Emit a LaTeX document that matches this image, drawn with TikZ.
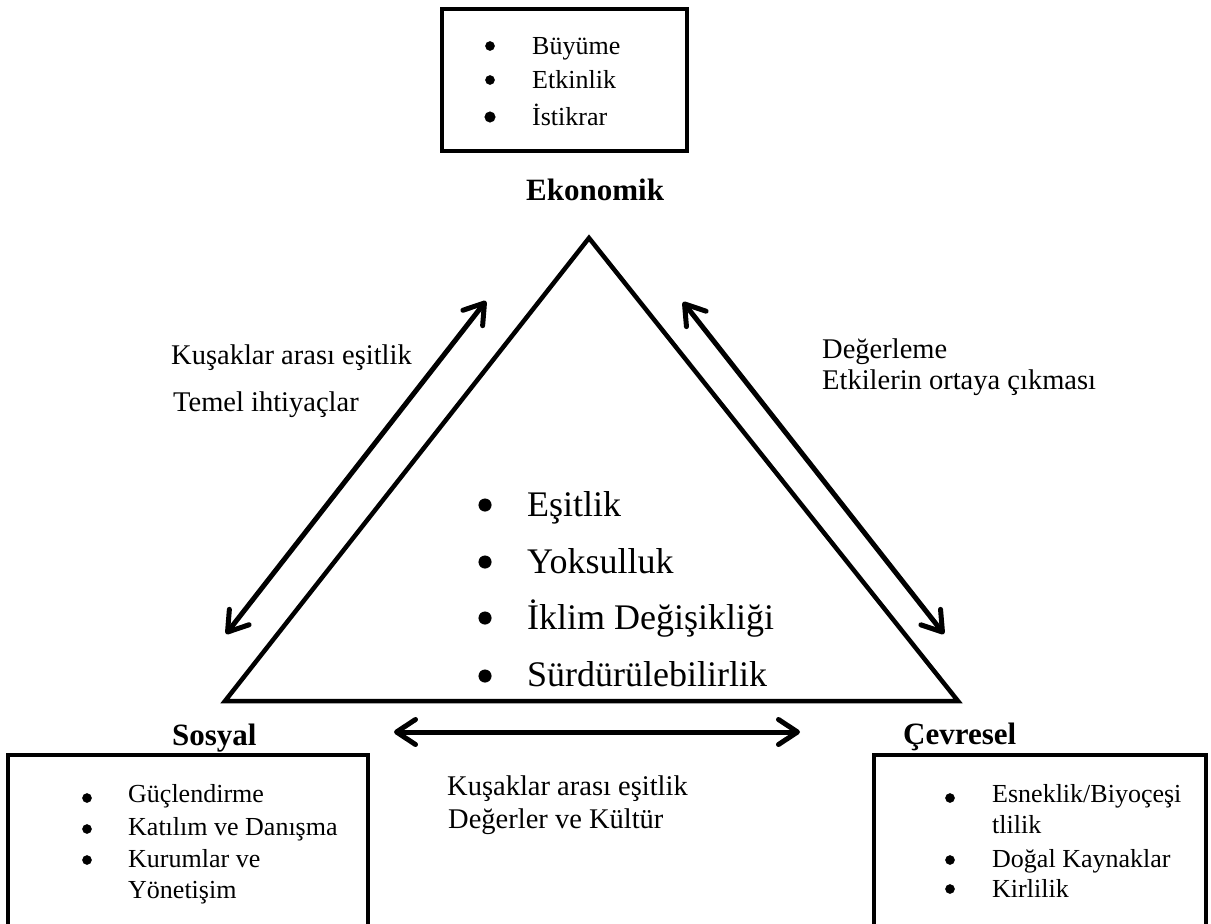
\documentclass[tikz,border=0pt]{standalone}
\usepackage{fontspec}
\setmainfont{Liberation Serif}
\usetikzlibrary{arrows.meta}

\tikzset{
  frame/.style={line width=4.5pt, line join=miter},
  boxtxt/.style={anchor=base west, inner sep=0pt, font=\fontsize{26}{30}\selectfont},
  midtxt/.style={anchor=base west, inner sep=0pt, font=\fontsize{36}{42}\selectfont},
  labtxt/.style={anchor=base west, inner sep=0pt, font=\fontsize{28.5}{33}\selectfont},
  headtxt/.style={anchor=base west, inner sep=0pt, font=\bfseries\fontsize{31}{36}\selectfont},
  dot/.style={circle, fill=black, draw=black, line width=0.5pt, inner sep=0pt, minimum size=9pt},
  bigdot/.style={circle, fill=black, draw=black, line width=0.5pt, inner sep=0pt, minimum size=12.5pt},
  barb/.tip={Straight Barb[length=19pt,width=25pt,line cap=round,line join=round]},
  twoway/.style={line width=5pt, line cap=round, {barb}-{barb}},
}

\begin{document}
\begin{tikzpicture}[x=1pt,y=-1pt]
\useasboundingbox (0,0) rectangle (1211,924);

% triangle
\coordinate (apex) at (589,238);
\coordinate (bl) at (225,701);
\coordinate (br) at (958,701);
\draw[frame] (apex) -- (bl) -- (br) -- cycle;

% boxes
\draw[frame] (442,9) rectangle (687,151);
\draw[frame] (8,755) rectangle (368,940);
\draw[frame] (874,755) rectangle (1206,940);

% top box
\node[dot] (b1) at (490,46) {};
\node[boxtxt] (t1) at (532,54) {Büyüme};
\node[dot] (b2) at (490,80) {};
\node[boxtxt] (t2) at (532,88) {Etkinlik};
\node[dot,minimum size=10.5pt] (b3) at (490,117) {};
\node[boxtxt] (t3) at (532,125) {İstikrar};

% headings
\node[headtxt] (eko) at (526,200) {Ekonomik};
\node[headtxt] (sos) at (172,745) {Sosyal};
\node[headtxt] (cev) at (903,744) {Çevresel};

% central list
\node[bigdot] (c1b) at (485,505) {};
\node[midtxt] (c1) at (527,516) {Eşitlik};
\node[bigdot] (c2b) at (485,562) {};
\node[midtxt] (c2) at (527,573) {Yoksulluk};
\node[bigdot] (c3b) at (485,618) {};
\node[midtxt] (c3) at (527,629) {İklim Değişikliği};
\node[bigdot] (c4b) at (485,676) {};
\node[midtxt] (c4) at (527,686) {Sürdürülebilirlik};

% arrow labels
\node[labtxt] (l1) at (171,364) {Kuşaklar arası eşitlik};
\node[labtxt] (l2) at (173,411) {Temel ihtiyaçlar};
\node[labtxt] (r1) at (822,358) {Değerleme};
\node[labtxt] (r2) at (822,389) {Etkilerin ortaya çıkması};
\node[labtxt] (m1) at (447,795) {Kuşaklar arası eşitlik};
\node[labtxt] (m2) at (448,828) {Değerler ve Kültür};

% bottom-left box
\node[dot] (sb1) at (87,798) {};
\node[boxtxt] (s1) at (128,802) {Güçlendirme};
\node[dot] (sb2) at (87,829) {};
\node[boxtxt] (s2) at (128,835) {Katılım ve Danışma};
\node[dot] (sb3) at (87,860) {};
\node[boxtxt] (s3) at (128,867) {Kurumlar ve};
\node[boxtxt] (s4) at (128,898) {Yönetişim};

% bottom-right box
\node[dot] (eb1) at (950,798) {};
\node[boxtxt] (e1) at (992,802) {Esneklik/Biyoçeşi};
\node[boxtxt] (e1b) at (992,833) {tlilik};
\node[dot] (eb2) at (950,860) {};
\node[boxtxt] (e2) at (992,867) {Doğal Kaynaklar};
\node[dot] (eb3) at (950,889) {};
\node[boxtxt] (e3) at (992,897) {Kirlilik};

% two-way arrows
\coordinate (la) at (226,634);
\coordinate (lb) at (486,301);
\coordinate (ra) at (683,302);
\coordinate (rb) at (944,634);
\coordinate (ha) at (394,732);
\coordinate (hb) at (800,732);
\draw[twoway] (la) -- (lb);
\draw[twoway] (ra) -- (rb);
\draw[twoway] (ha) -- (hb);
\end{tikzpicture}
\end{document}
